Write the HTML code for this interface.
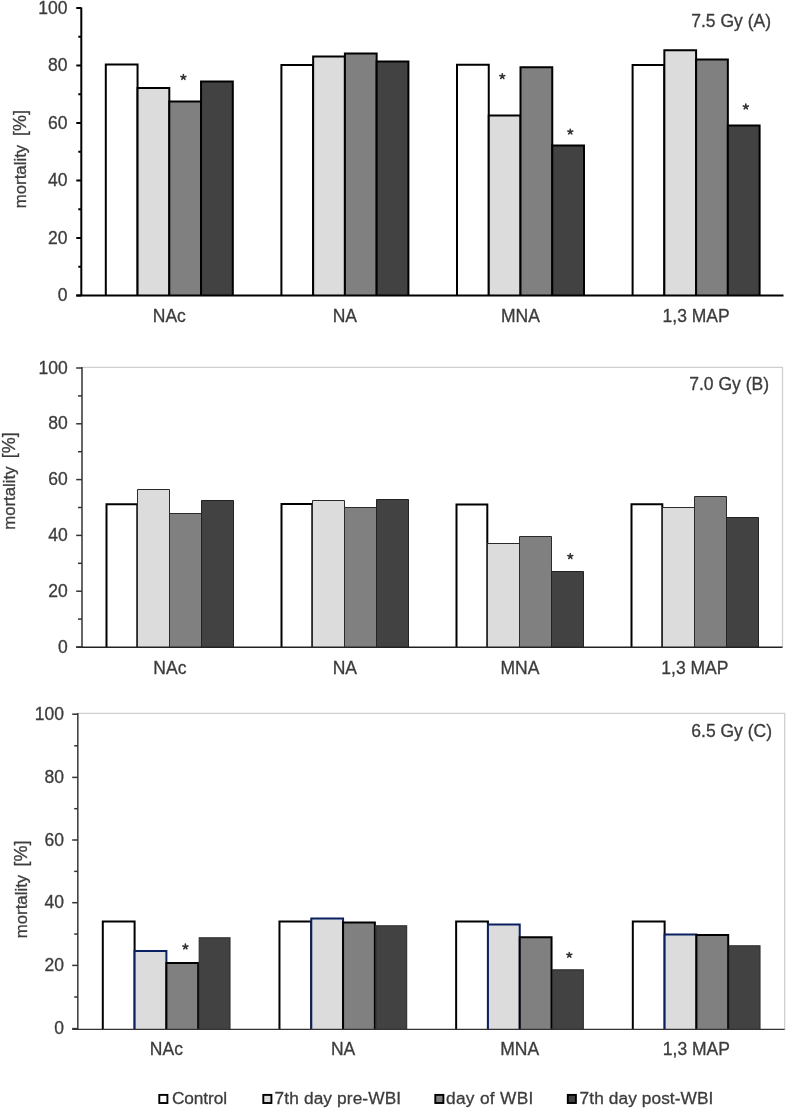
<!DOCTYPE html>
<html><head><meta charset="utf-8"><style>
html,body{margin:0;padding:0;background:#fff;width:786px;height:1110px;overflow:hidden}
svg{display:block}
text{font-family:"Liberation Sans", sans-serif;stroke:#3c3c3c;stroke-width:0.3px}
</style></head><body>
<svg width="786" height="1110" viewBox="0 0 786 1110" font-family='"Liberation Sans", sans-serif' font-size="17.5" fill="#3c3c3c">
<rect width="786" height="1110" fill="#fff"/>
<g style="will-change:transform">
<g><rect x="105.80" y="64.60" width="31.75" height="230.90" fill="#ffffff"/>
<path d="M105.80 295.5V64.60H137.55V295.5" fill="none" stroke="#000" stroke-width="2" stroke-linejoin="miter"/>
<rect x="137.55" y="88.00" width="31.75" height="207.50" fill="#dcdcdc"/>
<path d="M137.55 295.5V88.00H169.30V295.5" fill="none" stroke="#000" stroke-width="2" stroke-linejoin="miter"/>
<rect x="169.30" y="101.40" width="31.75" height="194.10" fill="#808080"/>
<path d="M169.30 295.5V101.40H201.05V295.5" fill="none" stroke="#000" stroke-width="2" stroke-linejoin="miter"/>
<rect x="201.05" y="81.40" width="31.75" height="214.10" fill="#424242"/>
<path d="M201.05 295.5V81.40H232.80V295.5" fill="none" stroke="#000" stroke-width="2" stroke-linejoin="miter"/>
<rect x="281.40" y="64.90" width="31.75" height="230.60" fill="#ffffff"/>
<path d="M281.40 295.5V64.90H313.15V295.5" fill="none" stroke="#000" stroke-width="2" stroke-linejoin="miter"/>
<rect x="313.15" y="56.60" width="31.75" height="238.90" fill="#dcdcdc"/>
<path d="M313.15 295.5V56.60H344.90V295.5" fill="none" stroke="#000" stroke-width="2" stroke-linejoin="miter"/>
<rect x="344.90" y="53.40" width="31.75" height="242.10" fill="#808080"/>
<path d="M344.90 295.5V53.40H376.65V295.5" fill="none" stroke="#000" stroke-width="2" stroke-linejoin="miter"/>
<rect x="376.65" y="61.60" width="31.75" height="233.90" fill="#424242"/>
<path d="M376.65 295.5V61.60H408.40V295.5" fill="none" stroke="#000" stroke-width="2" stroke-linejoin="miter"/>
<rect x="457.00" y="64.80" width="31.75" height="230.70" fill="#ffffff"/>
<path d="M457.00 295.5V64.80H488.75V295.5" fill="none" stroke="#000" stroke-width="2" stroke-linejoin="miter"/>
<rect x="488.75" y="115.60" width="31.75" height="179.90" fill="#dcdcdc"/>
<path d="M488.75 295.5V115.60H520.50V295.5" fill="none" stroke="#000" stroke-width="2" stroke-linejoin="miter"/>
<rect x="520.50" y="67.30" width="31.75" height="228.20" fill="#808080"/>
<path d="M520.50 295.5V67.30H552.25V295.5" fill="none" stroke="#000" stroke-width="2" stroke-linejoin="miter"/>
<rect x="552.25" y="145.40" width="31.75" height="150.10" fill="#424242"/>
<path d="M552.25 295.5V145.40H584.00V295.5" fill="none" stroke="#000" stroke-width="2" stroke-linejoin="miter"/>
<rect x="632.60" y="64.90" width="31.75" height="230.60" fill="#ffffff"/>
<path d="M632.60 295.5V64.90H664.35V295.5" fill="none" stroke="#000" stroke-width="2" stroke-linejoin="miter"/>
<rect x="664.35" y="50.20" width="31.75" height="245.30" fill="#dcdcdc"/>
<path d="M664.35 295.5V50.20H696.10V295.5" fill="none" stroke="#000" stroke-width="2" stroke-linejoin="miter"/>
<rect x="696.10" y="59.50" width="31.75" height="236.00" fill="#808080"/>
<path d="M696.10 295.5V59.50H727.85V295.5" fill="none" stroke="#000" stroke-width="2" stroke-linejoin="miter"/>
<rect x="727.85" y="125.40" width="31.75" height="170.10" fill="#424242"/>
<path d="M727.85 295.5V125.40H759.60V295.5" fill="none" stroke="#000" stroke-width="2" stroke-linejoin="miter"/>
<line x1="81.3" y1="7.5" x2="81.3" y2="295.5" stroke="#000" stroke-width="2"/>
<line x1="76.3" y1="295.5" x2="783.5" y2="295.5" stroke="#000" stroke-width="2"/>
<line x1="76.3" y1="295.50" x2="81.3" y2="295.50" stroke="#000" stroke-width="2"/>
<line x1="78.3" y1="266.75" x2="81.3" y2="266.75" stroke="#000" stroke-width="2"/>
<line x1="76.3" y1="238.00" x2="81.3" y2="238.00" stroke="#000" stroke-width="2"/>
<line x1="78.3" y1="209.25" x2="81.3" y2="209.25" stroke="#000" stroke-width="2"/>
<line x1="76.3" y1="180.50" x2="81.3" y2="180.50" stroke="#000" stroke-width="2"/>
<line x1="78.3" y1="151.75" x2="81.3" y2="151.75" stroke="#000" stroke-width="2"/>
<line x1="76.3" y1="123.00" x2="81.3" y2="123.00" stroke="#000" stroke-width="2"/>
<line x1="78.3" y1="94.25" x2="81.3" y2="94.25" stroke="#000" stroke-width="2"/>
<line x1="76.3" y1="65.50" x2="81.3" y2="65.50" stroke="#000" stroke-width="2"/>
<line x1="78.3" y1="36.75" x2="81.3" y2="36.75" stroke="#000" stroke-width="2"/>
<line x1="76.3" y1="8.00" x2="81.3" y2="8.00" stroke="#000" stroke-width="2"/>
<text x="67.5" y="301.10" text-anchor="end">0</text>
<text x="67.5" y="243.60" text-anchor="end">20</text>
<text x="67.5" y="186.10" text-anchor="end">40</text>
<text x="67.5" y="128.60" text-anchor="end">60</text>
<text x="67.5" y="71.10" text-anchor="end">80</text>
<text x="67.5" y="13.60" text-anchor="end">100</text>
<text x="169.30" y="321.6" text-anchor="middle">NAc</text>
<text x="344.90" y="321.6" text-anchor="middle">NA</text>
<text x="520.50" y="321.6" text-anchor="middle">MNA</text>
<text x="696.10" y="321.6" text-anchor="middle">1,3 MAP</text>
<text x="771" y="27.4" text-anchor="end">7.5 Gy (A)</text>
<text transform="translate(25.8,208.20) rotate(-90)" font-size="16.8">mortality</text>
<text transform="translate(25.8,136.10) rotate(-90)" font-size="18">[%]</text>
<path d="M183.40 77.20L183.40 74.60M183.40 77.20L185.87 76.40M183.40 77.20L184.93 79.30M183.40 77.20L181.87 79.30M183.40 77.20L180.93 76.40" stroke="#333" stroke-width="1.6" stroke-linecap="round" fill="none"/>
<path d="M502.30 76.40L502.30 73.80M502.30 76.40L504.77 75.60M502.30 76.40L503.83 78.50M502.30 76.40L500.77 78.50M502.30 76.40L499.83 75.60" stroke="#333" stroke-width="1.6" stroke-linecap="round" fill="none"/>
<path d="M570.30 131.80L570.30 129.20M570.30 131.80L572.77 131.00M570.30 131.80L571.83 133.90M570.30 131.80L568.77 133.90M570.30 131.80L567.83 131.00" stroke="#333" stroke-width="1.6" stroke-linecap="round" fill="none"/>
<path d="M745.80 106.70L745.80 104.10M745.80 106.70L748.27 105.90M745.80 106.70L747.33 108.80M745.80 106.70L744.27 108.80M745.80 106.70L743.33 105.90" stroke="#333" stroke-width="1.6" stroke-linecap="round" fill="none"/></g>
<g><path d="M82.0 367.4H782.5V647.2" fill="none" stroke="#cfcfcf" stroke-width="1.3"/>
<rect x="106.50" y="504.20" width="30.80" height="143.00" fill="#ffffff"/>
<path d="M106.50 647.2V504.20H137.30V647.2" fill="none" stroke="#000" stroke-width="2" stroke-linejoin="miter"/>
<rect x="137.50" y="489.50" width="32.00" height="157.70" fill="#dcdcdc"/>
<path d="M137.50 647.2V489.50H169.50V647.2" fill="none" stroke="#2a2a2a" stroke-width="1" stroke-linejoin="miter"/>
<rect x="169.50" y="513.50" width="32.00" height="133.70" fill="#808080"/>
<path d="M169.50 647.2V513.50H201.50V647.2" fill="none" stroke="#2a2a2a" stroke-width="1" stroke-linejoin="miter"/>
<rect x="201.50" y="500.50" width="32.00" height="146.70" fill="#424242"/>
<path d="M201.50 647.2V500.50H233.50V647.2" fill="none" stroke="#222" stroke-width="1" stroke-linejoin="miter"/>
<rect x="281.50" y="504.00" width="30.80" height="143.20" fill="#ffffff"/>
<path d="M281.50 647.2V504.00H312.30V647.2" fill="none" stroke="#000" stroke-width="2" stroke-linejoin="miter"/>
<rect x="312.50" y="500.50" width="32.00" height="146.70" fill="#dcdcdc"/>
<path d="M312.50 647.2V500.50H344.50V647.2" fill="none" stroke="#2a2a2a" stroke-width="1" stroke-linejoin="miter"/>
<rect x="344.50" y="507.50" width="32.00" height="139.70" fill="#808080"/>
<path d="M344.50 647.2V507.50H376.50V647.2" fill="none" stroke="#2a2a2a" stroke-width="1" stroke-linejoin="miter"/>
<rect x="376.50" y="499.50" width="32.00" height="147.70" fill="#424242"/>
<path d="M376.50 647.2V499.50H408.50V647.2" fill="none" stroke="#222" stroke-width="1" stroke-linejoin="miter"/>
<rect x="456.50" y="504.40" width="30.80" height="142.80" fill="#ffffff"/>
<path d="M456.50 647.2V504.40H487.30V647.2" fill="none" stroke="#000" stroke-width="2" stroke-linejoin="miter"/>
<rect x="487.50" y="543.50" width="32.00" height="103.70" fill="#dcdcdc"/>
<path d="M487.50 647.2V543.50H519.50V647.2" fill="none" stroke="#2a2a2a" stroke-width="1" stroke-linejoin="miter"/>
<rect x="519.50" y="536.50" width="32.00" height="110.70" fill="#808080"/>
<path d="M519.50 647.2V536.50H551.50V647.2" fill="none" stroke="#2a2a2a" stroke-width="1" stroke-linejoin="miter"/>
<rect x="551.50" y="571.50" width="32.00" height="75.70" fill="#424242"/>
<path d="M551.50 647.2V571.50H583.50V647.2" fill="none" stroke="#222" stroke-width="1" stroke-linejoin="miter"/>
<rect x="631.50" y="504.30" width="30.80" height="142.90" fill="#ffffff"/>
<path d="M631.50 647.2V504.30H662.30V647.2" fill="none" stroke="#000" stroke-width="2" stroke-linejoin="miter"/>
<rect x="662.50" y="507.50" width="32.00" height="139.70" fill="#dcdcdc"/>
<path d="M662.50 647.2V507.50H694.50V647.2" fill="none" stroke="#2a2a2a" stroke-width="1" stroke-linejoin="miter"/>
<rect x="694.50" y="496.50" width="32.00" height="150.70" fill="#808080"/>
<path d="M694.50 647.2V496.50H726.50V647.2" fill="none" stroke="#2a2a2a" stroke-width="1" stroke-linejoin="miter"/>
<rect x="726.50" y="517.50" width="32.00" height="129.70" fill="#424242"/>
<path d="M726.50 647.2V517.50H758.50V647.2" fill="none" stroke="#222" stroke-width="1" stroke-linejoin="miter"/>
<line x1="82.0" y1="366.9" x2="82.0" y2="647.2" stroke="#666" stroke-width="2"/>
<line x1="76.2" y1="647.2" x2="782.5" y2="647.2" stroke="#222" stroke-width="1.4"/>
<line x1="76.2" y1="647.00" x2="82.0" y2="647.00" stroke="#333" stroke-width="1.5"/>
<line x1="78.0" y1="619.10" x2="82.0" y2="619.10" stroke="#333" stroke-width="1.5"/>
<line x1="76.2" y1="591.20" x2="82.0" y2="591.20" stroke="#333" stroke-width="1.5"/>
<line x1="78.0" y1="563.30" x2="82.0" y2="563.30" stroke="#333" stroke-width="1.5"/>
<line x1="76.2" y1="535.40" x2="82.0" y2="535.40" stroke="#333" stroke-width="1.5"/>
<line x1="78.0" y1="507.50" x2="82.0" y2="507.50" stroke="#333" stroke-width="1.5"/>
<line x1="76.2" y1="479.60" x2="82.0" y2="479.60" stroke="#333" stroke-width="1.5"/>
<line x1="78.0" y1="451.70" x2="82.0" y2="451.70" stroke="#333" stroke-width="1.5"/>
<line x1="76.2" y1="423.80" x2="82.0" y2="423.80" stroke="#333" stroke-width="1.5"/>
<line x1="78.0" y1="395.90" x2="82.0" y2="395.90" stroke="#333" stroke-width="1.5"/>
<line x1="76.2" y1="368.00" x2="82.0" y2="368.00" stroke="#333" stroke-width="1.5"/>
<text x="67.8" y="652.60" text-anchor="end">0</text>
<text x="67.8" y="596.80" text-anchor="end">20</text>
<text x="67.8" y="541.00" text-anchor="end">40</text>
<text x="67.8" y="485.20" text-anchor="end">60</text>
<text x="67.8" y="429.40" text-anchor="end">80</text>
<text x="67.8" y="373.60" text-anchor="end">100</text>
<text x="169.90" y="674" text-anchor="middle">NAc</text>
<text x="344.90" y="674" text-anchor="middle">NA</text>
<text x="519.90" y="674" text-anchor="middle">MNA</text>
<text x="694.90" y="674" text-anchor="middle">1,3 MAP</text>
<text x="769" y="389.5" text-anchor="end">7.0 Gy (B)</text>
<text transform="translate(15.4,529.80) rotate(-90)" font-size="16.8">mortality</text>
<text transform="translate(15.4,458.20) rotate(-90)" font-size="18">[%]</text>
<path d="M570.30 556.40L570.30 553.80M570.30 556.40L572.77 555.60M570.30 556.40L571.83 558.50M570.30 556.40L568.77 558.50M570.30 556.40L567.83 555.60" stroke="#333" stroke-width="1.6" stroke-linecap="round" fill="none"/></g>
<g><path d="M77.8 713.4H784.7V1029.4" fill="none" stroke="#cfcfcf" stroke-width="1.3"/>
<rect x="102.80" y="921.60" width="31.80" height="107.80" fill="#ffffff"/>
<path d="M102.80 1029.4V921.60H134.60V1029.4" fill="none" stroke="#000" stroke-width="2" stroke-linejoin="miter"/>
<rect x="134.60" y="951.00" width="31.80" height="78.40" fill="#dcdcdc"/>
<path d="M134.60 1029.4V951.00H166.40V1029.4" fill="none" stroke="#0a2060" stroke-width="2" stroke-linejoin="miter"/>
<rect x="166.40" y="963.00" width="31.80" height="66.40" fill="#808080"/>
<path d="M166.40 1029.4V963.00H198.20V1029.4" fill="none" stroke="#000" stroke-width="2" stroke-linejoin="miter"/>
<rect x="199.20" y="937.75" width="30.80" height="91.65" fill="#424242"/>
<path d="M199.20 1029.4V937.75H230.00V1029.4" fill="none" stroke="#2e2e2e" stroke-width="1.1" stroke-linejoin="miter"/>
<rect x="279.47" y="921.40" width="31.80" height="108.00" fill="#ffffff"/>
<path d="M279.47 1029.4V921.40H311.27V1029.4" fill="none" stroke="#000" stroke-width="2" stroke-linejoin="miter"/>
<rect x="311.27" y="918.60" width="31.80" height="110.80" fill="#dcdcdc"/>
<path d="M311.27 1029.4V918.60H343.07V1029.4" fill="none" stroke="#0a2060" stroke-width="2" stroke-linejoin="miter"/>
<rect x="343.07" y="922.60" width="31.80" height="106.80" fill="#808080"/>
<path d="M343.07 1029.4V922.60H374.87V1029.4" fill="none" stroke="#000" stroke-width="2" stroke-linejoin="miter"/>
<rect x="375.87" y="925.75" width="30.80" height="103.65" fill="#424242"/>
<path d="M375.87 1029.4V925.75H406.67V1029.4" fill="none" stroke="#2e2e2e" stroke-width="1.1" stroke-linejoin="miter"/>
<rect x="456.14" y="921.60" width="31.80" height="107.80" fill="#ffffff"/>
<path d="M456.14 1029.4V921.60H487.94V1029.4" fill="none" stroke="#000" stroke-width="2" stroke-linejoin="miter"/>
<rect x="487.94" y="924.50" width="31.80" height="104.90" fill="#dcdcdc"/>
<path d="M487.94 1029.4V924.50H519.74V1029.4" fill="none" stroke="#0a2060" stroke-width="2" stroke-linejoin="miter"/>
<rect x="519.74" y="937.30" width="31.80" height="92.10" fill="#808080"/>
<path d="M519.74 1029.4V937.30H551.54V1029.4" fill="none" stroke="#000" stroke-width="2" stroke-linejoin="miter"/>
<rect x="552.54" y="969.85" width="30.80" height="59.55" fill="#424242"/>
<path d="M552.54 1029.4V969.85H583.34V1029.4" fill="none" stroke="#2e2e2e" stroke-width="1.1" stroke-linejoin="miter"/>
<rect x="632.81" y="921.40" width="31.80" height="108.00" fill="#ffffff"/>
<path d="M632.81 1029.4V921.40H664.61V1029.4" fill="none" stroke="#000" stroke-width="2" stroke-linejoin="miter"/>
<rect x="664.61" y="934.40" width="31.80" height="95.00" fill="#dcdcdc"/>
<path d="M664.61 1029.4V934.40H696.41V1029.4" fill="none" stroke="#0a2060" stroke-width="2" stroke-linejoin="miter"/>
<rect x="696.41" y="935.00" width="31.80" height="94.40" fill="#808080"/>
<path d="M696.41 1029.4V935.00H728.21V1029.4" fill="none" stroke="#000" stroke-width="2" stroke-linejoin="miter"/>
<rect x="729.21" y="945.75" width="30.80" height="83.65" fill="#424242"/>
<path d="M729.21 1029.4V945.75H760.01V1029.4" fill="none" stroke="#2e2e2e" stroke-width="1.1" stroke-linejoin="miter"/>
<line x1="77.8" y1="712.9" x2="77.8" y2="1029.4" stroke="#444" stroke-width="1.6"/>
<line x1="72.2" y1="1029.4" x2="784.7" y2="1029.4" stroke="#333" stroke-width="1.4"/>
<line x1="72.2" y1="1028.60" x2="77.8" y2="1028.60" stroke="#333" stroke-width="1.5"/>
<line x1="74.2" y1="997.00" x2="77.8" y2="997.00" stroke="#333" stroke-width="1.5"/>
<line x1="72.2" y1="965.40" x2="77.8" y2="965.40" stroke="#333" stroke-width="1.5"/>
<line x1="74.2" y1="934.05" x2="77.8" y2="934.05" stroke="#333" stroke-width="1.5"/>
<line x1="72.2" y1="902.70" x2="77.8" y2="902.70" stroke="#333" stroke-width="1.5"/>
<line x1="74.2" y1="871.35" x2="77.8" y2="871.35" stroke="#333" stroke-width="1.5"/>
<line x1="72.2" y1="840.00" x2="77.8" y2="840.00" stroke="#333" stroke-width="1.5"/>
<line x1="74.2" y1="808.70" x2="77.8" y2="808.70" stroke="#333" stroke-width="1.5"/>
<line x1="72.2" y1="777.40" x2="77.8" y2="777.40" stroke="#333" stroke-width="1.5"/>
<line x1="74.2" y1="745.80" x2="77.8" y2="745.80" stroke="#333" stroke-width="1.5"/>
<line x1="72.2" y1="714.20" x2="77.8" y2="714.20" stroke="#333" stroke-width="1.5"/>
<text x="64" y="1034.20" text-anchor="end">0</text>
<text x="64" y="971.00" text-anchor="end">20</text>
<text x="64" y="908.30" text-anchor="end">40</text>
<text x="64" y="845.60" text-anchor="end">60</text>
<text x="64" y="783.00" text-anchor="end">80</text>
<text x="64" y="719.80" text-anchor="end">100</text>
<text x="166.40" y="1054.8" text-anchor="middle">NAc</text>
<text x="343.07" y="1054.8" text-anchor="middle">NA</text>
<text x="519.74" y="1054.8" text-anchor="middle">MNA</text>
<text x="696.41" y="1054.8" text-anchor="middle">1,3 MAP</text>
<text x="772" y="736.6" text-anchor="end">6.5 Gy (C)</text>
<text transform="translate(26.5,938.20) rotate(-90)" font-size="16.8">mortality</text>
<text transform="translate(26.5,866.50) rotate(-90)" font-size="18">[%]</text>
<path d="M185.40 946.70L185.40 944.10M185.40 946.70L187.87 945.90M185.40 946.70L186.93 948.80M185.40 946.70L183.87 948.80M185.40 946.70L182.93 945.90" stroke="#333" stroke-width="1.6" stroke-linecap="round" fill="none"/>
<path d="M569.30 955.05L569.30 952.45M569.30 955.05L571.77 954.25M569.30 955.05L570.83 957.15M569.30 955.05L567.77 957.15M569.30 955.05L566.83 954.25" stroke="#333" stroke-width="1.6" stroke-linecap="round" fill="none"/></g>
<g font-size="17.3"><rect x="159.3" y="1094.9" width="8.1" height="8.1" fill="#ffffff" stroke="#000" stroke-width="1.9"/><text x="172.0" y="1103.7" textLength="55.0" lengthAdjust="spacing">Control</text><rect x="263.3" y="1094.9" width="8.1" height="8.1" fill="#dcdcdc" stroke="#000" stroke-width="1.9"/><text x="274.6" y="1103.7" textLength="126.5" lengthAdjust="spacing">7th day pre-WBI</text><rect x="435.3" y="1094.9" width="8.1" height="8.1" fill="#808080" stroke="#000" stroke-width="1.9"/><text x="446.0" y="1103.7" textLength="87.3" lengthAdjust="spacing">day of WBI</text><rect x="567.8" y="1094.9" width="8.1" height="8.1" fill="#424242" stroke="#000" stroke-width="1.9"/><text x="579.6" y="1103.7" textLength="133.8" lengthAdjust="spacing">7th day post-WBI</text></g>
</g>
</svg>
</body></html>
